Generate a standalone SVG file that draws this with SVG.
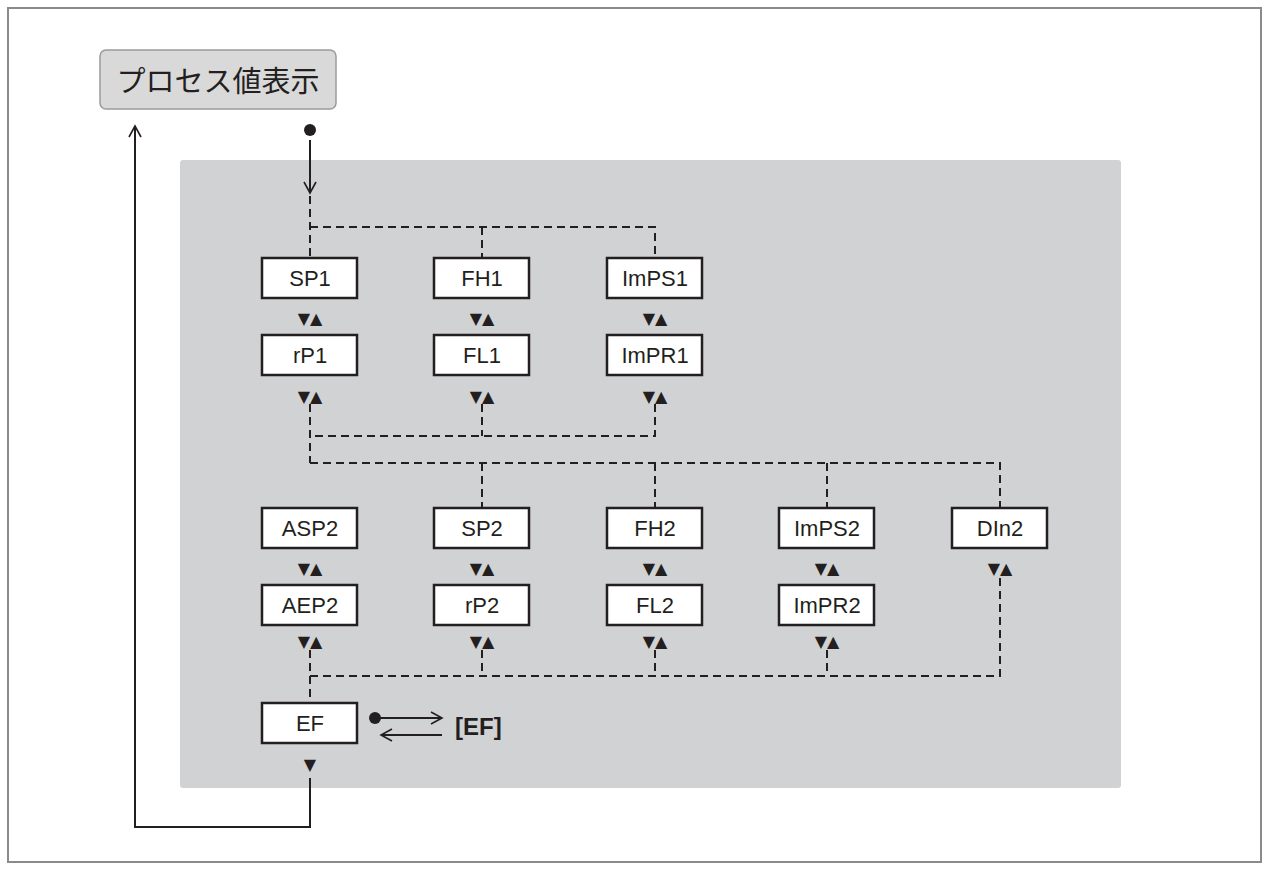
<svg xmlns="http://www.w3.org/2000/svg" width="1268" height="871" viewBox="0 0 1268 871">
<style>
.b{fill:#fff;stroke:#231f20;stroke-width:2.5}
.t{font-family:"Liberation Sans",Arial,sans-serif;font-size:22px;fill:#231f20;text-anchor:middle}
.tr{font-family:"DejaVu Sans",sans-serif;font-size:16px;fill:#231f20;text-anchor:middle}
.d{fill:none;stroke:#231f20;stroke-width:2;stroke-dasharray:8,5}
.s{fill:none;stroke:#231f20;stroke-width:2}
</style>
<defs>
<marker id="a" markerWidth="14" markerHeight="14" refX="12" refY="7" orient="auto" markerUnits="userSpaceOnUse"><path d="M1,1 L12,7 L1,13" fill="none" stroke="#231f20" stroke-width="1.6"/></marker>
</defs>
<rect x="8" y="8" width="1253" height="854" fill="#fff" stroke="#8a8a8a" stroke-width="2"/>
<rect x="180" y="160" width="941" height="628" rx="3" fill="#d1d2d4"/>
<g id="pv"><rect x="100" y="50" width="236" height="59" rx="6" fill="#d9d9d9" stroke="#9a9a9a" stroke-width="1.5"/>
<text x="218" y="92" font-family="'Noto Sans CJK JP',sans-serif" font-size="29" fill="#231f20" text-anchor="middle">プロセス値表示</text></g>
<g id="connectors">
<circle cx="310" cy="130" r="6" fill="#231f20"/>
<path class="s" d="M310,140 V193" marker-end="url(#a)"/>
<path class="d" d="M310,196 V258 M310,227 H655 V258 M482,227 V258"/>
<path class="d" d="M310,404 V463 M482,404 V436 M655,404 V436 H310 M310,463 H1000 V508 M482,463 V508 M655,463 V508 M827,463 V508"/>
<path class="d" d="M310,650 V703 M482,650 V676 M655,650 V676 M827,650 V676 M1000,578 V676 H310"/>
<circle cx="375" cy="718" r="6" fill="#231f20"/>
<path class="s" d="M380,718 H442" marker-end="url(#a)"/>
<path class="s" d="M442,735 H381" marker-end="url(#a)"/>
<path class="s" d="M310,778 V827 H135 V126" marker-end="url(#a)"/>
</g>
<g class="tr">
<text x="310" y="324">▼▲</text><text x="482" y="324">▼▲</text><text x="655" y="324">▼▲</text>
<text x="310" y="402">▼▲</text><text x="482" y="402">▼▲</text><text x="655" y="402">▼▲</text>
<text x="310" y="574">▼▲</text><text x="482" y="574">▼▲</text><text x="655" y="574">▼▲</text><text x="827" y="574">▼▲</text><text x="1000" y="574">▼▲</text>
<text x="310" y="647">▼▲</text><text x="482" y="647">▼▲</text><text x="655" y="647">▼▲</text><text x="827" y="647">▼▲</text>
<text x="310" y="770">▼</text>
</g>
<g id="SP1"><rect class="b" x="262" y="258" width="95" height="40"/><text class="t" x="310" y="286">SP1</text></g>
<g id="FH1"><rect class="b" x="434" y="258" width="95" height="40"/><text class="t" x="482" y="286">FH1</text></g>
<g id="ImPS1"><rect class="b" x="607" y="258" width="95" height="40"/><text class="t" x="655" y="286">ImPS1</text></g>
<g id="rP1"><rect class="b" x="262" y="335" width="95" height="40"/><text class="t" x="310" y="363">rP1</text></g>
<g id="FL1"><rect class="b" x="434" y="335" width="95" height="40"/><text class="t" x="482" y="363">FL1</text></g>
<g id="ImPR1"><rect class="b" x="607" y="335" width="95" height="40"/><text class="t" x="655" y="363">ImPR1</text></g>
<g id="ASP2"><rect class="b" x="262" y="508" width="95" height="40"/><text class="t" x="310" y="536">ASP2</text></g>
<g id="SP2"><rect class="b" x="434" y="508" width="95" height="40"/><text class="t" x="482" y="536">SP2</text></g>
<g id="FH2"><rect class="b" x="607" y="508" width="95" height="40"/><text class="t" x="655" y="536">FH2</text></g>
<g id="ImPS2"><rect class="b" x="779" y="508" width="95" height="40"/><text class="t" x="827" y="536">ImPS2</text></g>
<g id="DIn2"><rect class="b" x="952" y="508" width="95" height="40"/><text class="t" x="1000" y="536">DIn2</text></g>
<g id="AEP2"><rect class="b" x="262" y="585" width="95" height="40"/><text class="t" x="310" y="613">AEP2</text></g>
<g id="rP2"><rect class="b" x="434" y="585" width="95" height="40"/><text class="t" x="482" y="613">rP2</text></g>
<g id="FL2"><rect class="b" x="607" y="585" width="95" height="40"/><text class="t" x="655" y="613">FL2</text></g>
<g id="ImPR2"><rect class="b" x="779" y="585" width="95" height="40"/><text class="t" x="827" y="613">ImPR2</text></g>
<g id="EF"><rect class="b" x="262" y="703" width="95" height="40"/><text class="t" x="310" y="731">EF</text></g>
<g id="EFx"><text x="455" y="735" font-family="'Liberation Sans',Arial,sans-serif" font-size="24" font-weight="bold" fill="#231f20">[EF]</text></g>
</svg>
